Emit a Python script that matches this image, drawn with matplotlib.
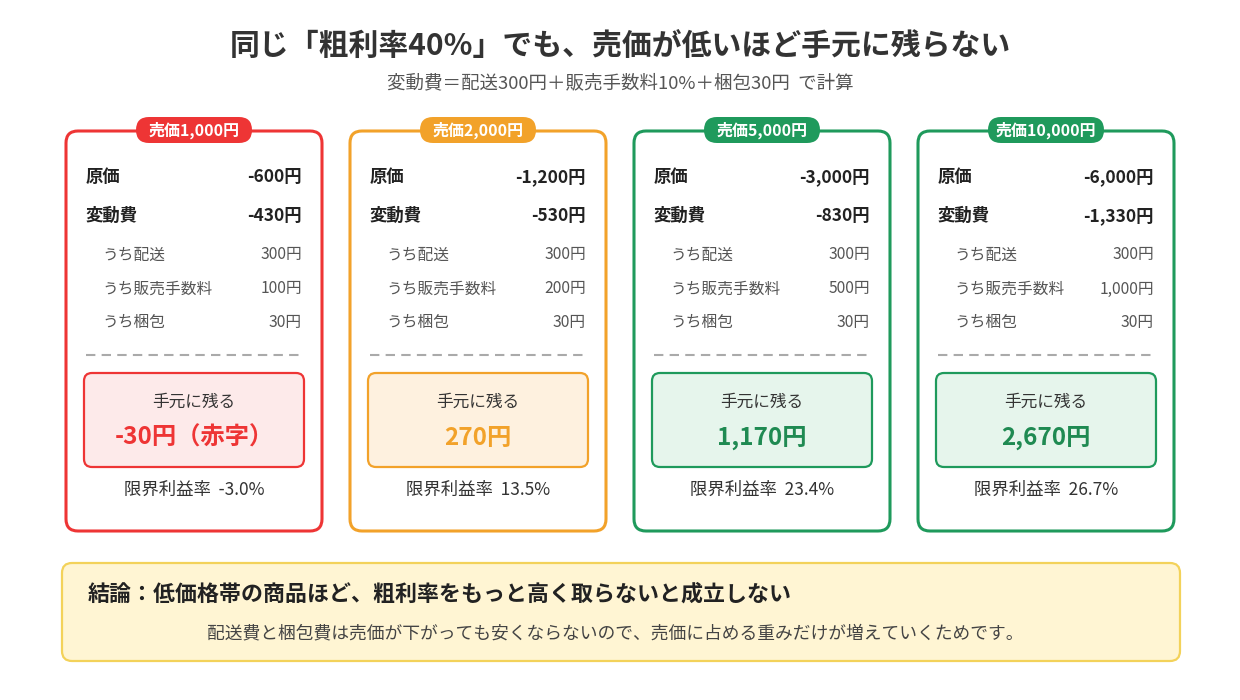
import matplotlib
matplotlib.use("Agg")
import matplotlib.pyplot as plt
from matplotlib.patches import FancyBboxPatch

plt.rcParams['font.family'] = ['Noto Sans CJK JP', 'DejaVu Sans']

# データ
prices = [1000, 2000, 5000, 10000]
genka = [600, 1200, 3000, 6000]
hendohi = [430, 530, 830, 1330]
haiso = [300, 300, 300, 300]
tesuryo = [100, 200, 500, 1000]
konpo = [30, 30, 30, 30]
nokoru = [-30, 270, 1170, 2670]
rieki_ritsu = [-3.0, 13.5, 23.4, 26.7]

edge_cols = ['#EE3535', '#F2A22A', '#1F9A5C', '#1F9A5C']
fill_cols = ['#FDEAEA', '#FEF1DF', '#E6F5EC', '#E6F5EC']
val_cols = ['#EE3535', '#F2A22A', '#1F8A52', '#1F8A52']

fig = plt.figure(figsize=(12.4, 7), dpi=100)
ax = fig.add_axes([0, 0, 1, 1])
ax.set_xlim(0, 1240)
ax.set_ylim(700, 0)
ax.axis('off')

ax.text(620, 47, '同じ「粗利率40%」でも、売価が低いほど手元に残らない', ha='center', va='center',
        fontsize=21.5, fontweight='bold', color='#333333')
ax.text(620, 83, '変動費＝配送300円＋販売手数料10%＋梱包30円  で計算', ha='center', va='center',
        fontsize=13.3, color='#555555')

def box(x0, y0, w, h, fc, ec, lw=2, r=12):
    ax.add_patch(FancyBboxPatch((x0, y0), w, h, boxstyle=f'round,pad=0,rounding_size={r}',
                                fc=fc, ec=ec, lw=lw))

for i in range(4):
    x0 = 66 + i * 284
    w = 256
    ec = edge_cols[i]
    box(x0, 131, w, 400, 'white', ec, lw=2.2)
    cx = x0 + w / 2
    box(cx - 58, 117, 116, 26, ec, ec, lw=0, r=13)
    ax.text(cx, 130, f'売価{prices[i]:,}円', ha='center', va='center', fontsize=11.5,
            fontweight='bold', color='white')
    lx, rx = x0 + 20, x0 + 236
    rows = [('原価', f'-{genka[i]:,}円', 177, True),
            ('変動費', f'-{hendohi[i]:,}円', 216, True),
            ('うち配送', f'{haiso[i]:,}円', 255, False),
            ('うち販売手数料', f'{tesuryo[i]:,}円', 289, False),
            ('うち梱包', f'{konpo[i]:,}円', 323, False)]
    for lab, val, y, bold in rows:
        if bold:
            ax.text(lx, y, lab, ha='left', va='center', fontsize=12.5, fontweight='bold', color='#222222')
            ax.text(rx, y, val, ha='right', va='center', fontsize=12.5, fontweight='bold', color='#222222')
        else:
            ax.text(lx + 16, y, lab, ha='left', va='center', fontsize=11.3, color='#555555')
            ax.text(rx, y, val, ha='right', va='center', fontsize=11.3, color='#555555')
    ax.plot([lx, rx], [355, 355], ls=(0, (4.5, 3)), color='#AAAAAA', lw=1.5)
    box(x0 + 18, 373, 220, 94, fill_cols[i], ec, lw=1.6, r=8)
    ax.text(cx, 402, '手元に残る', ha='center', va='center', fontsize=12, color='#333333')
    v = f'{nokoru[i]:,}円' + ('（赤字）' if nokoru[i] < 0 else '')
    ax.text(cx, 438, v, ha='center', va='center', fontsize=17.5, fontweight='bold', color=val_cols[i])
    ax.text(cx, 490, f'限界利益率  {rieki_ritsu[i]:.1f}%', ha='center', va='center',
            fontsize=12.5, color='#333333')

box(62, 563, 1118, 98, '#FFF5D3', '#F3D25A', lw=1.6, r=10)
ax.text(88, 594, '結論：低価格帯の商品ほど、粗利率をもっと高く取らないと成立しない', ha='left',
        va='center', fontsize=15.8, fontweight='bold', color='#222222')
ax.text(615, 633, '配送費と梱包費は売価が下がっても安くならないので、売価に占める重みだけが増えていくためです。',
        ha='center', va='center', fontsize=12.8, color='#444444')

fig.savefig('out.png', dpi=100, facecolor='white')
